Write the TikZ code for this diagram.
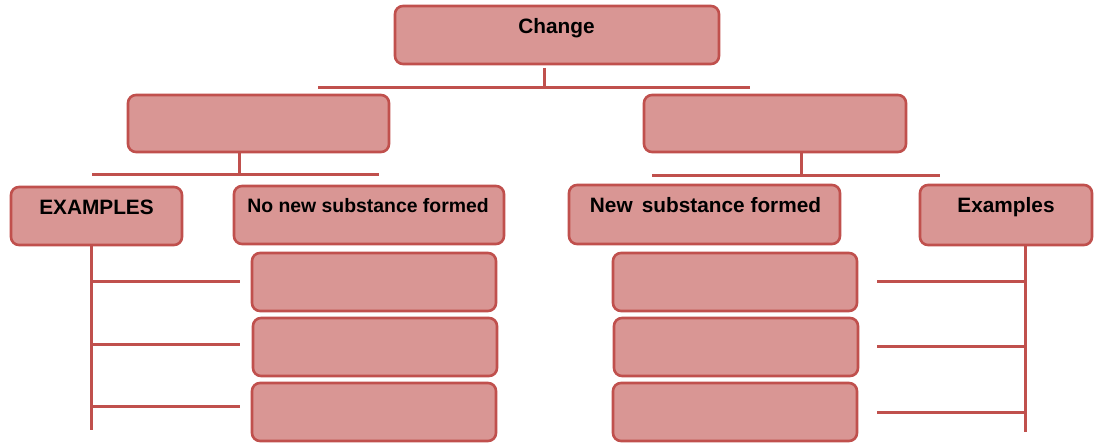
\documentclass[tikz,border=0pt]{standalone}
\usepackage{fontspec}
\setmainfont{Liberation Sans}
\definecolor{boxfill}{HTML}{D99694}
\definecolor{boxline}{HTML}{C0504D}
\begin{document}
\begin{tikzpicture}[x=1pt,y=-1pt,
  box/.style={draw=boxline, fill=boxfill, line width=2.6pt, rounded corners=8pt,
    inner sep=0pt, outer sep=0pt, rectangle},
  lbl/.style={font=\bfseries\fontsize{20.8}{24}\selectfont, anchor=base, inner sep=0pt},
  conn/.style={draw=boxline, line width=3pt}]
\useasboundingbox (0,0) rectangle (1097,446);
% boxes
\node[box, minimum width=324pt, minimum height=58pt] (change) at (557,35) {};
\node[box, minimum width=261pt, minimum height=57pt] (lmid) at (258.5,123.5) {};
\node[box, minimum width=262pt, minimum height=57pt] (rmid) at (775,123.5) {};
\node[box, minimum width=171pt, minimum height=58pt] (exl) at (96.5,216) {};
\node[box, minimum width=270pt, minimum height=58pt] (nonew) at (369,215) {};
\node[box, minimum width=271pt, minimum height=59pt] (new) at (704.5,214.5) {};
\node[box, minimum width=172pt, minimum height=60pt] (exr) at (1006,215) {};
\foreach \n/\x/\y in {lb1/374/282, lb2/375/347, lb3/374/412, rb1/735/282, rb2/736/347, rb3/735/412}
  \node[box, minimum width=244pt, minimum height=58pt] (\n) at (\x,\y) {};
% labels
\node[lbl] (changet) at (556.5,34) {Change};
\node[lbl] (exlt) at (96.5,215) {EXAMPLES};
\node[lbl, font=\bfseries\fontsize{19.4}{23}\selectfont] (nonewt) at (368,213) {No new substance formed};
\node[lbl] (newt) at (705.5,213) {New\, substance formed};
\node[lbl] (exrt) at (1006,213) {Examples};
% top connector
\coordinate (tj) at (544,88);
\coordinate (tl) at (318,88);
\coordinate (tr) at (750,88);
\draw[conn] (tj |- change.south) ++(0,4) -- (tj);
\draw[conn] (tl) -- (tr);
% left branch
\coordinate (lj) at (239,175);
\coordinate (ll) at (92,175);
\coordinate (lr) at (379,175);
\draw[conn] (lj |- lmid.south) -- (lj);
\draw[conn] (ll) -- (lr);
% right branch
\coordinate (rj) at (801,176);
\coordinate (rl) at (652,176);
\coordinate (rr) at (940,176);
\draw[conn] (rj |- rmid.south) -- (rj);
\draw[conn] (rl) -- (rr);
% left examples tree
\coordinate (lvb) at (91,430);
\draw[conn] (lvb |- exl.south) -- (lvb);
\coordinate (la1) at (91,281); \coordinate (lb1e) at (240,281);
\coordinate (la2) at (91,344); \coordinate (lb2e) at (240,344);
\coordinate (la3) at (91,406); \coordinate (lb3e) at (240,406);
\draw[conn] (la1) -- (lb1e);
\draw[conn] (la2) -- (lb2e);
\draw[conn] (la3) -- (lb3e);
% right examples tree
\coordinate (rvb) at (1025,432);
\draw[conn] (rvb |- exr.south) -- (rvb);
\coordinate (ra1) at (1025,281); \coordinate (rb1e) at (877,281);
\coordinate (ra2) at (1025,346); \coordinate (rb2e) at (877,346);
\coordinate (ra3) at (1025,412); \coordinate (rb3e) at (877,412);
\draw[conn] (ra1) -- (rb1e);
\draw[conn] (ra2) -- (rb2e);
\draw[conn] (ra3) -- (rb3e);
\end{tikzpicture}
\end{document}
